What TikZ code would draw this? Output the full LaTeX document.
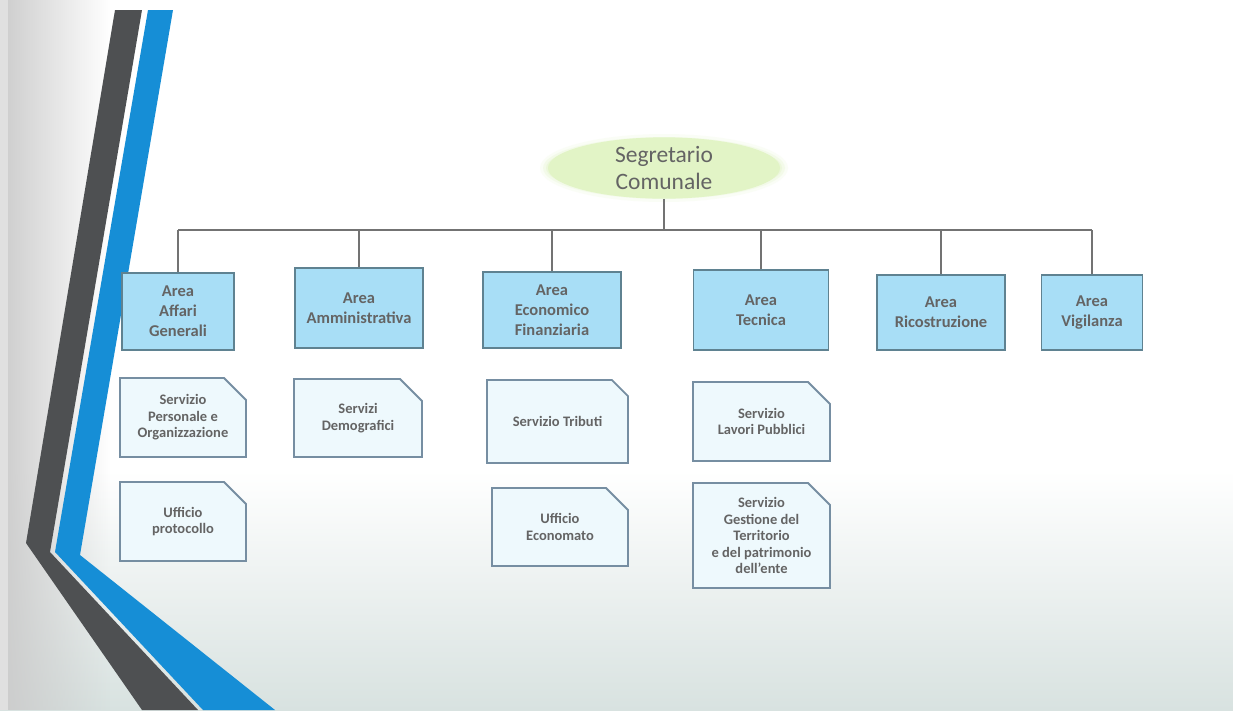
\documentclass[tikz,border=0pt]{standalone}
\usepackage{fontspec}
\setmainfont{Carlito}
\usetikzlibrary{shapes.geometric,shapes.misc,fadings}
\definecolor{bandgray}{RGB}{78,80,82}
\definecolor{bandblue}{RGB}{22,142,214}
\definecolor{areafill}{RGB}{168,222,246}
\definecolor{areadraw}{RGB}{95,130,145}
\definecolor{servfill}{RGB}{238,249,253}
\definecolor{servdraw}{RGB}{118,142,162}
\definecolor{txtgray}{RGB}{100,100,100}
\definecolor{segfill}{RGB}{226,244,198}
\definecolor{bgbot}{RGB}{216,226,224}
\colorlet{linecol}{black!55}
\tikzfading[name=fadeleft,left color=transparent!0,right color=transparent!100]
\tikzstyle{conn}=[linecol,line width=2pt]
\tikzstyle{area}=[draw=areadraw,fill=areafill,line width=1.8pt,inner sep=0pt,
  text=txtgray,align=center,font=\fontsize{16.5}{20}\selectfont\bfseries]
\tikzstyle{serv}=[chamfered rectangle,chamfered rectangle corners=north east,
  chamfered rectangle xsep=11pt,chamfered rectangle ysep=11pt,
  draw=servdraw,fill=servfill,line width=1.8pt,inner sep=0pt,
  text=txtgray,align=center,font=\fontsize{14.5}{16.5}\selectfont\bfseries]

\begin{document}
\begin{tikzpicture}[x=1pt,y=-1pt]
  \useasboundingbox (0,0) rectangle (1233,710);
  % Background
  \fill[white] (0,0) rectangle (1233,710);
  \shade[top color=white,bottom color=bgbot] (0,470) rectangle (1233,710);
  \fill[black!20,path fading=fadeleft] (0,0) rectangle (110,710);
  \fill[black!12] (0,0) rectangle (8,710);
  % Bands
  \fill[bandgray] (115,10) -- (142,10) -- (50,552) -- (198,710) -- (142,710) -- (26,543) -- cycle;
  \fill[bandblue] (148,10) -- (173,10) -- (80,555) -- (275,710) -- (203,710) -- (55,552) -- cycle;

  % Segretario
  \foreach \r/\o in {8/.15,5/.25,2/.4}
    \fill[segfill,opacity=\o] (664,168) ellipse [x radius=116+\r,y radius=26+\r];
  \node[ellipse,fill=segfill,minimum width=232pt,minimum height=52pt,inner sep=0pt,
    text=txtgray,align=center,font=\fontsize{23.5}{27}\selectfont] (seg) at (664,168)
    {Segretario\\Comunale};
  \coordinate (bus) at (0,230);

  % Areas
  \node[area,minimum width=112pt,minimum height=77pt] (aag) at (178,311.5) {Area\\Affari\\Generali};
  \node[area,minimum width=128pt,minimum height=80pt] (aam) at (359,308) {Area\\Amministrativa};
  \node[area,minimum width=138pt,minimum height=76pt] (aef) at (552,310) {Area\\Economico\\Finanziaria};
  \node[area,minimum width=135pt,minimum height=80pt] (atc) at (761,310) {Area\\Tecnica};
  \node[area,minimum width=128pt,minimum height=75pt] (aric) at (941,312.5) {Area\\Ricostruzione};
  \node[area,minimum width=101pt,minimum height=75pt] (avi) at (1092,312.5) {Area\\Vigilanza};

  % Services
  \node[serv,minimum width=126pt,minimum height=79pt] (spo) at (183,417.5) {Servizio\\Personale e\\Organizzazione};
  \node[serv,minimum width=126pt,minimum height=79pt] (upr) at (183,521.5) {Ufficio\\protocollo};
  \node[serv,minimum width=128pt,minimum height=78pt] (sde) at (358,418) {Servizi\\Demografici};
  \node[serv,minimum width=141pt,minimum height=83pt] (stb) at (557.5,421.5) {Servizio Tributi};
  \node[serv,minimum width=136pt,minimum height=78pt] (uec) at (560,527) {Ufficio\\Economato};
  \node[serv,minimum width=137pt,minimum height=79pt] (slp) at (761.5,421.5) {Servizio\\Lavori Pubblici};
  \node[serv,minimum width=137pt,minimum height=105pt] (sgt) at (761.5,535.5)
    {Servizio\\Gestione del\\Territorio\\e del patrimonio\\dell'ente};

  % Connectors
  \draw[conn] (seg.south) -- (seg.south |- bus);
  \draw[conn] (aag.north |- bus) -- (avi.north |- bus);
  \foreach \n in {aag,aam,aef,atc,aric,avi}
    \draw[conn] (\n.north |- bus) -- (\n.north);
\end{tikzpicture}
\end{document}
